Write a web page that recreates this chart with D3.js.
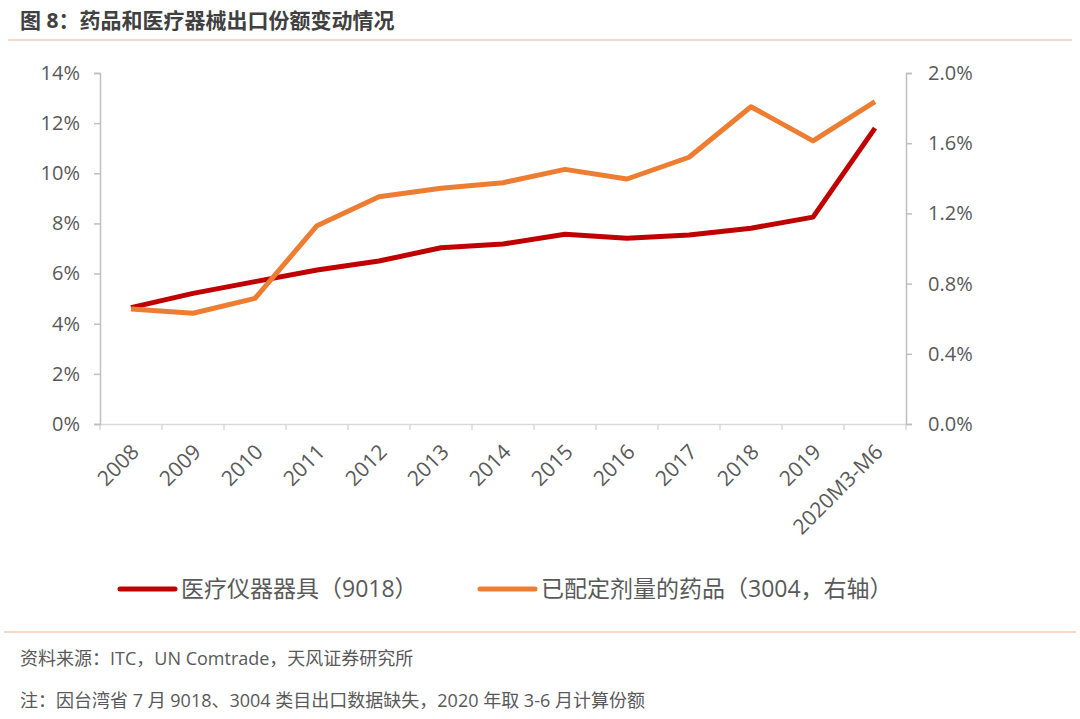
<!DOCTYPE html>
<html>
<head>
<meta charset="utf-8">
<script src="https://cdn.jsdelivr.net/npm/d3@7"></script>
<style>
  body { margin: 0; background: #fff; }
  text { font-family: "Open Sans", "Noto Sans CJK SC", sans-serif; }
</style>
</head>
<body>
<script>
//------------ DATA ----------------------
const years = ["2008", "2009", "2010", "2011", "2012", "2013", "2014",
               "2015", "2016", "2017", "2018", "2019", "2020M3-M6"];
// 医疗仪器器具（9018）, left axis, %
const medDevices = [4.64, 5.21, 5.68, 6.14, 6.50, 7.03, 7.18, 7.57, 7.41, 7.54, 7.81, 8.25, 11.80];
// 已配定剂量的药品（3004）, right axis, %
const medicines = [0.655, 0.631, 0.716, 1.130, 1.295, 1.343, 1.375, 1.451, 1.396, 1.520, 1.808, 1.613, 1.837];
const leftTicks = [0, 2, 4, 6, 8, 10, 12, 14];
const rightTicks = [0, 0.4, 0.8, 1.2, 1.6, 2.0];
//----------------------------------------

const width = 1080, height = 719;
const plot = { left: 100, right: 906, top: 73, bottom: 424 };
const textColor = "#595959";
const cjk = "'Noto Sans CJK SC', sans-serif";

const svg = d3.select("body").append("svg")
    .attr("width", width)
    .attr("height", height);

// title + rules
svg.append("text")
    .attr("x", 20).attr("y", 28)
    .attr("font-size", 21).attr("font-weight", "bold")
    .attr("fill", "#404040")
    .attr("font-family", cjk)
    .text("图 8：药品和医疗器械出口份额变动情况");
svg.append("line")
    .attr("x1", 8).attr("x2", 1072).attr("y1", 40).attr("y2", 40)
    .attr("stroke", "#DDB98A").attr("stroke-width", 1.2);
svg.append("line")
    .attr("x1", 4).attr("x2", 1076).attr("y1", 632).attr("y2", 632)
    .attr("stroke", "#F4B183").attr("stroke-width", 1.2);

//----------- SCALES -------------------
const x = d3.scaleBand().domain(years).range([plot.left, plot.right]);
const yL = d3.scaleLinear().domain([0, 14]).range([plot.bottom, plot.top]);
const yR = d3.scaleLinear().domain([0, 2]).range([plot.bottom, plot.top]);

//----------- AXES ---------------------
function styleAxis(g, stroke) {
  g.select(".domain").attr("stroke", stroke).attr("stroke-width", 1.5);
  g.selectAll(".tick line").attr("stroke", stroke).attr("stroke-width", 1.5);
  g.selectAll(".tick text").attr("fill", textColor).attr("font-size", 20);
}

const gx = svg.append("g")
    .attr("transform", `translate(0,${plot.bottom})`)
    .call(d3.axisBottom(x).tickSizeOuter(0).tickSize(0).tickFormat(d => d));
gx.select(".domain").attr("stroke", "#D9D9D9").attr("stroke-width", 1.5);
gx.selectAll(".tick text")
    .attr("fill", textColor).attr("font-size", 21)
    .attr("text-anchor", "end")
    .attr("transform", "translate(4,24) rotate(-45)")
    .attr("dy", "0.35em").attr("y", 0).attr("x", 0);
// tick marks at band boundaries
gx.selectAll(".bound")
  .data(years.map(d => x(d)).concat([plot.right]))
  .join("line")
    .attr("x1", d => d).attr("x2", d => d)
    .attr("y1", 0).attr("y2", 6)
    .attr("stroke", "#D9D9D9").attr("stroke-width", 1.5);

const gl = svg.append("g")
    .attr("transform", `translate(${plot.left},0)`)
    .call(d3.axisLeft(yL).tickValues(leftTicks).tickSize(6).tickPadding(14)
      .tickFormat(d => d + "%"));
styleAxis(gl, "#BFBFBF");

const gr = svg.append("g")
    .attr("transform", `translate(${plot.right},0)`)
    .call(d3.axisRight(yR).tickValues(rightTicks).tickSize(6).tickPadding(16)
      .tickFormat(d => d.toFixed(1) + "%"));
styleAxis(gr, "#BFBFBF");

//----------- LINES --------------------
const cx = d => x(d) + x.bandwidth() / 2;

svg.append("path")
    .datum(years.map((d, i) => [cx(d), yL(medDevices[i])]))
    .attr("fill", "none").attr("stroke", "#C00000")
    .attr("stroke-width", 5).attr("stroke-linejoin", "round")
    .attr("d", d3.line());

svg.append("path")
    .datum(years.map((d, i) => [cx(d), yR(medicines[i])]))
    .attr("fill", "none").attr("stroke", "#ED7D31")
    .attr("stroke-width", 5).attr("stroke-linejoin", "round")
    .attr("d", d3.line());

//----------- LEGEND -------------------
const legend = [
  { label: "医疗仪器器具（9018）", color: "#C00000", x: 120 },
  { label: "已配定剂量的药品（3004，右轴）", color: "#ED7D31", x: 480 }
];
legend.forEach(l => {
  svg.append("line")
      .attr("x1", l.x).attr("x2", l.x + 55).attr("y1", 589).attr("y2", 589)
      .attr("stroke", l.color).attr("stroke-width", 5).attr("stroke-linecap", "round");
  svg.append("text")
      .attr("x", l.x + 61).attr("y", 597)
      .attr("font-size", 23).attr("fill", textColor)
      .attr("font-family", cjk)
      .text(l.label);
});

//----------- FOOTER -------------------
svg.append("text")
    .attr("x", 20).attr("y", 665)
    .attr("font-size", 18).attr("fill", textColor)
    .attr("font-family", cjk)
    .text("资料来源：ITC，UN Comtrade，天风证券研究所");
svg.append("text")
    .attr("x", 20).attr("y", 707)
    .attr("font-size", 18).attr("fill", textColor)
    .attr("font-family", cjk)
    .text("注：因台湾省 7 月 9018、3004 类目出口数据缺失，2020 年取 3-6 月计算份额");
</script>
</body>
</html>
